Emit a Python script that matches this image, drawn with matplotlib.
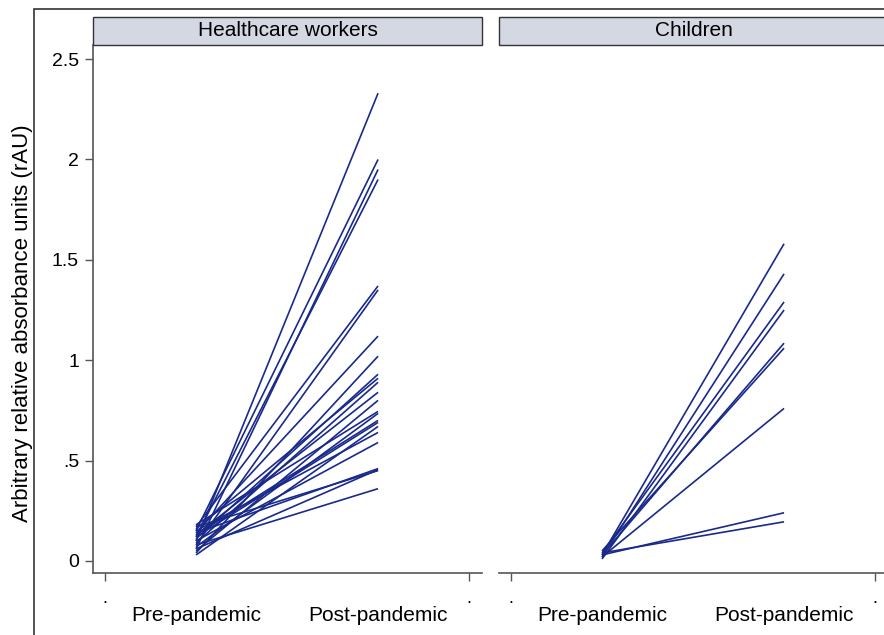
import numpy as np
import matplotlib
matplotlib.use("Agg")
import matplotlib.pyplot as plt
from matplotlib.patches import Rectangle

plt.rcParams['font.family'] = ['Liberation Sans', 'DejaVu Sans']

# x positions of the two time points
periods = ["Pre-pandemic", "Post-pandemic"]

# healthcare workers: pre / post values (rAU)
hcw_pre = [0.10, 0.15, 0.06, 0.12, 0.17, 0.08, 0.14, 0.04, 0.11, 0.16, 0.09,
           0.13, 0.05, 0.18, 0.07, 0.12, 0.03, 0.15, 0.10, 0.14, 0.06, 0.17,
           0.08, 0.13]
hcw_post = [2.33, 2.00, 1.95, 1.90, 1.37, 1.35, 1.12, 1.02, 0.93, 0.91, 0.89,
            0.84, 0.80, 0.745, 0.735, 0.69, 0.67, 0.64, 0.59, 0.46, 0.455, 0.45,
            0.36, 0.70]

# children: pre / post values (rAU)
child_pre = [0.03, 0.02, 0.04, 0.01, 0.03, 0.05, 0.02, 0.03, 0.04]
child_post = [1.58, 1.43, 1.29, 1.25, 1.085, 1.06, 0.76, 0.24, 0.195]

panels = [("Healthcare workers", hcw_pre, hcw_post),
          ("Children", child_pre, child_post)]

W, H = 884, 635
fig = plt.figure(figsize=(W / 100, H / 100), dpi=100)

line_col = "#1a2a8a"
axis_col = "#555555"

# outer frame (cropped on right and bottom)
fig.patches.append(Rectangle((34 / W, -0.05), 1.2, 1 - 9 / H + 0.05,
                             transform=fig.transFigure, fill=False,
                             edgecolor="#333333", lw=1.2, zorder=0))

ax_bottom = (H - 573) / H
ax_h = (573 - 45) / H
ax_w = 389 / W
lefts = [93 / W, 499 / W]

for i, (title, pre, post) in enumerate(panels):
    ax = fig.add_axes([lefts[i], ax_bottom, ax_w, ax_h])
    for a, b in zip(pre, post):
        ax.plot([1, 2], [a, b], color=line_col, lw=1.2, solid_capstyle="butt")
    ax.set_xlim(0.434, 2.571)
    ax.set_ylim(-0.06, 2.57)

    for s in ["top", "right"]:
        ax.spines[s].set_visible(False)
    ax.spines["bottom"].set_color(axis_col)
    ax.spines["bottom"].set_linewidth(1.2)
    if i == 0:
        ax.spines["left"].set_color(axis_col)
        ax.spines["left"].set_linewidth(1.2)
        ax.set_yticks([0, 0.5, 1, 1.5, 2, 2.5])
        ax.set_yticklabels(["0", ".5", "1", "1.5", "2", "2.5"], fontsize=14)
        ax.tick_params(axis="y", length=6, width=1, color=axis_col, pad=4)
        ax.set_ylabel("Arbitrary relative absorbance units (rAU)", fontsize=16)
        ax.yaxis.set_label_coords(-0.153, 0.473)
    else:
        ax.spines["left"].set_visible(False)
        ax.set_yticks([])

    # dot ticks at the ends, category labels below without tick marks
    ax.set_xticks([0.5, 2.5])
    ax.set_xticklabels([".", "."], fontsize=13)
    ax.tick_params(axis="x", length=6, width=1, color=axis_col, pad=6)
    for k, lab in enumerate(periods):
        ax.text(k + 1, -0.08, lab, transform=ax.get_xaxis_transform(),
                ha="center", va="center", fontsize=15)

    # strip header
    x0 = lefts[i]
    fig.patches.append(Rectangle((x0, (H - 45) / H), ax_w, 28 / H,
                                 transform=fig.transFigure, facecolor="#d3d8e3",
                                 edgecolor="#333333", lw=1.0))
    fig.text(x0 + ax_w / 2, (H - 31) / H, title, ha="center", va="center",
             fontsize=15)

fig.savefig("out.png", dpi=100)
